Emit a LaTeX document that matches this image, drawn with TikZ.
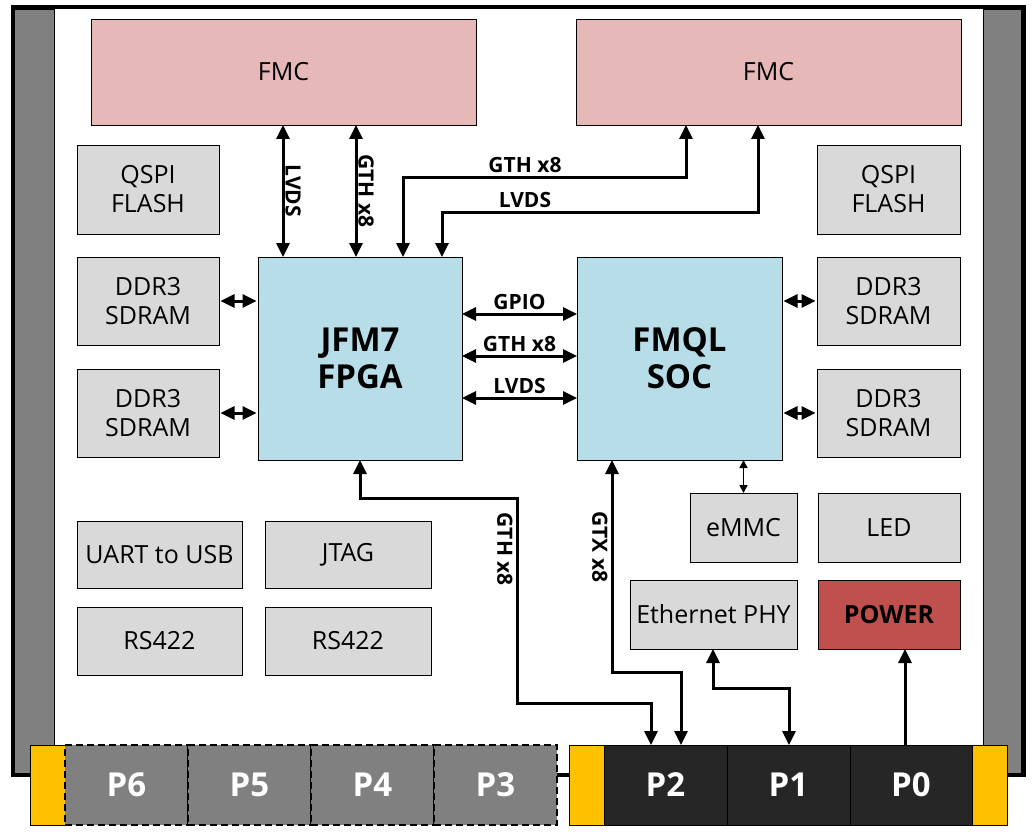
\documentclass[tikz,border=0pt]{standalone}
\usepackage{fontspec}
\setmainfont{Open Sans}
\usetikzlibrary{arrows.meta,positioning,calc}
\definecolor{cfmc}{HTML}{E6B9B8}
\definecolor{cchip}{HTML}{B7DEE8}
\definecolor{cpart}{HTML}{D9D9D9}
\definecolor{cpwr}{HTML}{C0504D}
\definecolor{crail}{HTML}{808080}
\definecolor{ckey}{HTML}{FFC000}
\definecolor{cport}{HTML}{262626}

\begin{document}
\begin{tikzpicture}[
  x=1pt, y=-1pt,
  font=\fontsize{25}{29}\selectfont,
  sz/.style 2 args={minimum width=#1pt, minimum height=#2pt},
  blk/.style={draw, line width=0.8pt, align=center, inner sep=0pt, outer sep=0pt},
  part/.style={blk, fill=cpart},
  chip/.style={blk, fill=cchip, font=\fontsize{33}{37}\selectfont\bfseries},
  key/.style={draw, line width=0.8pt, fill=ckey, inner sep=0pt, outer sep=0pt},
  port/.style={draw, line width=0.8pt, fill=cport, text=white, inner sep=0pt, outer sep=0pt,
               font=\fontsize{33}{36}\selectfont\bfseries},
  spare/.style={port, fill=crail, dash pattern=on 7pt off 4pt, line width=1.1pt},
  tag/.style={font=\fontsize{21}{24}\selectfont\bfseries, inner sep=1pt},
  bus/.style={line width=3pt, {Triangle[length=14pt,width=13pt]}-{Triangle[length=14pt,width=13pt]}},
  feed/.style={line width=3pt, -{Triangle[length=14pt,width=13pt]}},
  mmc/.style={line width=1.4pt, {Triangle[length=8pt,width=8pt]}-{Triangle[length=8pt,width=8pt]}},
]
\useasboundingbox (0,0) rectangle (1036,840);

% ------------------------------------------------------------------ board
\draw[line width=4pt] (12.5,7) rectangle (1023.5,775);
\draw[fill=crail, line width=0.6pt] (14.5,9) rectangle (54,773);
\draw[fill=crail, line width=0.6pt] (983,9) rectangle (1021.5,773);

% ------------------------------------------------------------------ FMC
\node[blk, fill=cfmc, sz={385}{106}] (fmcL) at (283.5,72) {FMC};
\node[blk, fill=cfmc, sz={385}{106}] (fmcR) at (768.5,72) {FMC};

% ------------------------------------------------------------------ left column
\node[part, sz={142}{89}] (qspiL) at (148,189.5) {QSPI\\FLASH};
\node[part, sz={142}{88}] (ddrL1) at (148,301) {DDR3\\SDRAM};
\node[part, sz={142}{88}] (ddrL2) at (148,413) {DDR3\\SDRAM};
\node[part, sz={165}{67}] (uart)  at (159.5,554.5) {UART to USB};
\node[part, sz={166}{67}] (jtag)  at (348,554.5) {JTAG};
\node[part, sz={165}{68}] (rsA)   at (159.5,641) {RS422};
\node[part, sz={166}{68}] (rsB)   at (348,641) {RS422};

% ------------------------------------------------------------------ processors
\node[chip, sz={204}{203}] (fpga) at (360,358.5) {JFM7\\FPGA};
\node[chip, sz={205}{203}] (soc)  at (679.5,358.5) {FMQL\\SOC};

% ------------------------------------------------------------------ right column
\node[part, sz={143}{89}] (qspiR) at (888.5,189.5) {QSPI\\FLASH};
\node[part, sz={143}{88}] (ddrR1) at (888.5,301) {DDR3\\SDRAM};
\node[part, sz={143}{88}] (ddrR2) at (888.5,413) {DDR3\\SDRAM};
\node[part, sz={107}{69}] (emmc)  at (743.5,527.5) {eMMC};
\node[part, sz={142}{69}] (led)   at (889,527.5) {LED};
\node[part, sz={167}{69}] (phy)   at (713.5,614.5) {Ethernet PHY};
\node[blk, fill=cpwr, sz={142}{69}, font=\fontsize{25}{29}\selectfont\bfseries] (power) at (889,614.5) {POWER};

% ------------------------------------------------------------------ connectors
\node[key, sz={35}{80}] (keyL) at (47.5,785) {};
\node[spare, sz={123}{80}, right=0pt of keyL] (p6) {P6};
\node[spare, sz={123}{80}, right=0pt of p6] (p5) {P5};
\node[spare, sz={123}{80}, right=0pt of p5] (p4) {P4};
\node[spare, sz={123}{80}, right=0pt of p4] (p3) {P3};
\node[key, sz={35}{80}] (keyR) at (586.5,785) {};
\node[port, sz={123}{80}, right=0pt of keyR] (p2) {P2};
\node[port, sz={123}{80}, right=0pt of p2] (p1) {P1};
\node[port, sz={122}{80}, right=0pt of p1] (p0) {P0};
\node[key, sz={35}{80}, right=0pt of p0] (keyE) {};

% ------------------------------------------------------------------ FMC links
\draw[bus] ($(fmcL.south west)+(192,0)$) -- node[tag, rotate=-90, anchor=south]{LVDS} ($(fpga.north west)+(25,0)$);
\draw[bus] ($(fmcL.south west)+(265,0)$) -- node[tag, rotate=-90, anchor=south]{GTH x8} ($(fpga.north west)+(98,0)$);
\draw[bus] ($(fpga.north west)+(145,0)$) |- (525,177) node[tag, above=2pt]{GTH x8} -| ($(fmcR.south west)+(110,0)$);
\draw[bus] ($(fpga.north west)+(184,0)$) |- (525,212) node[tag, above=2pt]{LVDS} -| ($(fmcR.south west)+(182,0)$);

% ------------------------------------------------------------------ FPGA to SOC
\foreach \dy/\txt in {57/GPIO, 99/GTH x8, 141/LVDS}
  \draw[bus] ($(fpga.north east)+(0,\dy)$) -- node[tag, above=2pt]{\txt} ($(soc.north west)+(0,\dy)$);

% ------------------------------------------------------------------ memories
\draw[bus, shorten <=1.5pt, shorten >=1.5pt] (ddrL1.east) -- (ddrL1.east -| fpga.west);
\draw[bus, shorten <=1.5pt, shorten >=1.5pt] (ddrL2.east) -- (ddrL2.east -| fpga.west);
\draw[bus, shorten <=1.5pt, shorten >=1.5pt] (ddrR1.west -| soc.east) -- (ddrR1.west);
\draw[bus, shorten <=1.5pt, shorten >=1.5pt] (ddrR2.west -| soc.east) -- (ddrR2.west);
\draw[mmc] (soc.south -| emmc.north) -- (emmc.north);

% ------------------------------------------------------------------ to the back connectors
\draw[bus] ($(fpga.south west)+(102,0)$) |- (517,498)
  -- node[tag, rotate=-90, anchor=north, inner sep=3pt, pos=0.25]{GTH x8} (517,703)
  -| ($(p2.north west)+(47,0)$);
\draw[bus] ($(soc.south west)+(35,0)$)
  -- node[tag, rotate=-90, anchor=north, inner sep=3pt, pos=0.41]{GTX x8} (612,672)
  -| ($(p2.north west)+(77,0)$);
\draw[bus] ($(phy.south west)+(83,0)$) |- ($(p1.north west)+(62,-57)$) -- ($(p1.north west)+(62,0)$);
\draw[feed] ($(p0.north west)+(55,0)$) -- ($(power.south west)+(87,0)$);
\end{tikzpicture}
\end{document}
